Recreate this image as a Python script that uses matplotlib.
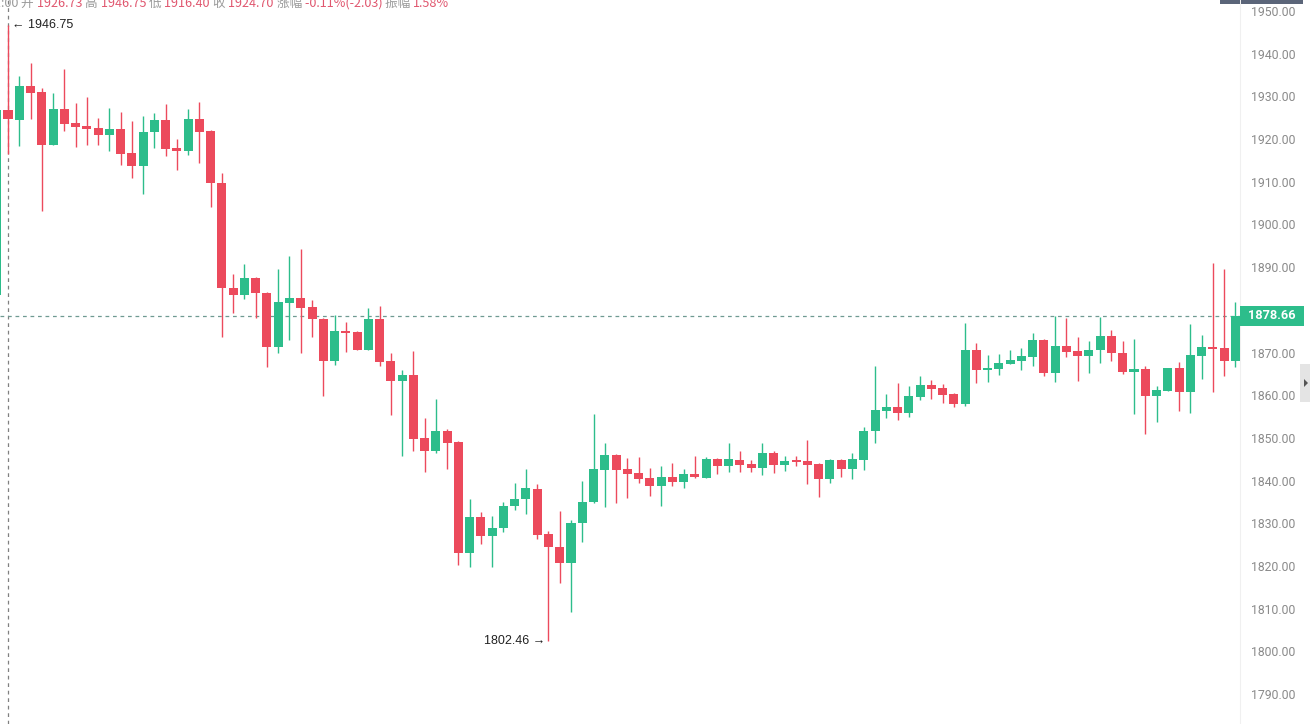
import matplotlib
matplotlib.use("Agg")
import matplotlib.pyplot as plt
from matplotlib.patches import Rectangle, Polygon
import numpy as np

# ---- data (index -1 is the partly visible candle at the left edge) ----
idx = list(range(-1, 110))
opens = [1883.5, 1926.73, 1924.5, 1932.4, 1931.0, 1918.7, 1927.0, 1923.8, 1923.1, 1922.5,
         1921.0, 1922.4, 1916.7, 1913.8, 1921.7, 1924.5, 1918.0, 1917.3, 1924.8, 1921.9,
         1909.6, 1885.0, 1883.4, 1887.4, 1883.9, 1871.4, 1881.7, 1882.8, 1880.7, 1877.9,
         1868.0, 1875.1, 1874.8, 1870.7, 1877.9, 1868.0, 1863.4, 1864.7, 1850.0, 1847.0,
         1851.6, 1849.0, 1823.0, 1831.5, 1827.1, 1828.8, 1834.0, 1835.8, 1838.0, 1827.5,
         1824.5, 1820.8, 1830.0, 1835.0, 1842.5, 1846.0, 1842.7, 1841.8, 1840.5, 1838.8,
         1840.8, 1839.7, 1841.5, 1840.7, 1845.1, 1843.5, 1844.8, 1843.9, 1843.0, 1846.5,
         1843.7, 1844.8, 1844.6, 1843.9, 1840.4, 1844.8, 1842.7, 1844.8, 1851.5, 1856.4,
         1857.3, 1855.9, 1859.6, 1862.4, 1861.7, 1860.3, 1858.0, 1870.6, 1866.0, 1866.2,
         1867.4, 1868.1, 1869.0, 1872.9, 1865.1, 1871.5, 1870.4, 1869.3, 1870.7, 1873.9,
         1870.0, 1865.5, 1866.1, 1859.8, 1861.1, 1866.4, 1860.8, 1869.3, 1871.2, 1871.0,
         1868.0]
highs = [1926.8, 1946.75, 1934.8, 1937.9, 1931.9, 1930.7, 1936.4, 1928.5, 1929.9, 1924.9,
         1927.2, 1926.3, 1924.2, 1925.3, 1926.0, 1928.2, 1920.1, 1927.0, 1928.7, 1922.2,
         1912.1, 1888.4, 1890.7, 1887.6, 1884.2, 1889.5, 1892.6, 1894.2, 1882.3, 1878.2,
         1878.9, 1877.2, 1875.0, 1880.4, 1880.9, 1869.8, 1865.9, 1870.4, 1854.6, 1859.2,
         1852.2, 1849.2, 1835.8, 1832.7, 1831.7, 1835.1, 1839.4, 1842.6, 1839.2, 1828.2,
         1832.9, 1830.8, 1839.8, 1855.7, 1848.9, 1846.2, 1845.2, 1845.5, 1842.9, 1843.4,
         1844.2, 1842.6, 1845.8, 1845.5, 1845.3, 1848.7, 1846.9, 1844.8, 1848.7, 1847.0,
         1845.8, 1845.8, 1849.5, 1844.1, 1845.0, 1845.0, 1846.4, 1852.5, 1866.8, 1860.3,
         1862.9, 1862.2, 1864.5, 1863.6, 1862.6, 1860.6, 1876.8, 1872.2, 1869.4, 1869.7,
         1870.6, 1871.0, 1874.5, 1873.2, 1878.6, 1878.0, 1873.6, 1872.8, 1878.4, 1875.3,
         1872.8, 1873.1, 1866.8, 1862.2, 1866.4, 1867.7, 1876.6, 1874.1, 1891.0, 1889.6,
         1881.9]
lows = [1883.5, 1916.40, 1918.4, 1924.6, 1903.2, 1918.5, 1922.0, 1918.2, 1918.5, 1918.7,
        1917.3, 1913.9, 1910.8, 1907.1, 1917.8, 1916.0, 1912.8, 1916.3, 1914.5, 1904.2,
        1873.6, 1879.2, 1882.6, 1878.2, 1866.5, 1870.0, 1872.9, 1870.0, 1873.6, 1859.9,
        1867.1, 1870.2, 1870.5, 1870.7, 1866.9, 1855.3, 1845.8, 1847.0, 1842.1, 1846.4,
        1842.8, 1820.2, 1819.7, 1825.1, 1819.8, 1828.0, 1833.1, 1832.2, 1826.3, 1802.46,
        1816.1, 1809.3, 1825.5, 1834.8, 1833.9, 1834.8, 1836.0, 1839.5, 1836.5, 1834.0,
        1838.7, 1838.3, 1840.6, 1840.5, 1841.5, 1842.1, 1842.1, 1842.1, 1841.3, 1841.8,
        1842.3, 1843.4, 1839.1, 1836.2, 1839.5, 1840.8, 1840.4, 1842.5, 1848.9, 1854.6,
        1854.2, 1854.8, 1858.9, 1859.0, 1858.1, 1857.3, 1857.5, 1862.9, 1863.2, 1864.7,
        1867.2, 1865.9, 1866.8, 1864.5, 1863.2, 1869.0, 1863.3, 1865.1, 1867.6, 1868.1,
        1865.0, 1855.6, 1850.9, 1853.8, 1861.1, 1856.4, 1855.8, 1863.7, 1860.8, 1864.5,
        1866.7]
closes = [1926.8, 1924.70, 1932.4, 1930.9, 1918.7, 1927.0, 1923.6, 1922.9, 1922.4, 1921.0,
          1922.4, 1916.6, 1913.8, 1921.7, 1924.5, 1917.7, 1917.3, 1924.8, 1921.7, 1909.6,
          1885.0, 1883.4, 1887.4, 1883.9, 1871.4, 1881.8, 1882.8, 1880.5, 1877.8, 1868.0,
          1875.0, 1874.6, 1870.7, 1877.9, 1867.8, 1863.4, 1864.7, 1849.8, 1847.0, 1851.6,
          1848.9, 1823.0, 1831.5, 1827.1, 1828.8, 1834.0, 1835.8, 1838.3, 1827.3, 1824.4,
          1820.8, 1830.0, 1835.0, 1842.8, 1846.0, 1842.5, 1841.5, 1840.4, 1838.8, 1840.8,
          1839.7, 1841.5, 1840.8, 1845.1, 1843.5, 1845.1, 1843.7, 1843.0, 1846.5, 1843.7,
          1844.5, 1844.3, 1843.7, 1840.4, 1844.8, 1842.7, 1845.1, 1851.6, 1856.5, 1857.3,
          1855.9, 1859.8, 1862.4, 1861.5, 1860.1, 1858.0, 1870.6, 1866.0, 1866.4, 1867.5,
          1868.2, 1869.2, 1872.9, 1865.1, 1871.5, 1870.2, 1869.3, 1870.7, 1873.9, 1869.8,
          1865.5, 1866.1, 1859.9, 1861.2, 1866.4, 1860.8, 1869.4, 1871.4, 1870.8, 1868.0,
          1878.66]

yticks = [1790, 1800, 1810, 1820, 1830, 1840, 1850, 1860, 1870, 1880,
          1890, 1900, 1910, 1920, 1930, 1940, 1950]
last_price = 1878.66
high_idx, high_val = 0, 1946.75
low_idx, low_val = 48, 1802.46
header_parts = [("1:00 ", "g"), ("开 ", "g"), ("1926.73 ", "r"), ("高 ", "g"), ("1946.75 ", "r"),
                ("低 ", "g"), ("1916.40 ", "r"), ("收 ", "g"), ("1924.70 ", "r"),
                ("涨幅 ", "g"), ("-0.11%(-2.03) ", "r"), ("振幅 ", "g"), ("1.58%", "r")]

GREEN = "#2dbd8b"
RED = "#ec4a5c"
GRAY_TXT = "#9a9a9a"
RED_TXT = "#e0566e"

W, H = 1310, 724
fig = plt.figure(figsize=(W / 100, H / 100), dpi=100)
fig.patch.set_facecolor("white")
ax = fig.add_axes([0, 0, 1240 / W, 1])

px_per_unit = 4.269
ymax = 1950 + 11 / px_per_unit
ymin = ymax - H / px_per_unit
step = 11.26
x0 = -8 / step
ax.set_xlim(x0, x0 + 1240 / step)
ax.set_ylim(ymin, ymax)

o = np.array(opens); h = np.array(highs); l = np.array(lows); c = np.array(closes)
x = np.array(idx)
cols = [GREEN if cc >= oo else RED for oo, cc in zip(o, c)]
ax.vlines(x, l, h, colors=cols, linewidth=1.0, zorder=3)
bottoms = np.minimum(o, c)
heights = np.maximum(np.abs(c - o), 1.2 / px_per_unit)
ax.bar(x, heights, bottom=bottoms, width=0.8, color=cols, linewidth=0, zorder=4)

# crosshair vertical line and last price line
ax.axvline(high_idx, color="#808080", linestyle=(0, (3, 3)), linewidth=0.9, zorder=2)
ax.axhline(last_price, color="#6f9a92", linestyle=(0, (3, 3)), linewidth=0.9, zorder=2)

# axis styling
for s in ["top", "left", "bottom"]:
    ax.spines[s].set_visible(False)
ax.spines["right"].set_color("#f0f0f0")
ax.set_xticks([])
ax.yaxis.tick_right()
ax.set_yticks(yticks)
ax.set_yticklabels([f"{v:.2f}" for v in yticks])
ax.tick_params(axis="y", length=0, pad=8, labelsize=8.8, labelcolor="#8a8a8a")
for lab in ax.get_yticklabels():
    lab.set_family(["Roboto", "DejaVu Sans"])

# high / low annotations
ax.annotate("← " + f"{high_val:.2f}", xy=(high_idx, high_val), xytext=(3, 0),
            textcoords="offset points", ha="left", va="center", fontsize=9,
            family=["Liberation Sans", "DejaVu Sans"], color="#222222", zorder=6)
ax.annotate(f"{low_val:.2f}" + " →", xy=(low_idx, low_val), xytext=(-2, 0),
            textcoords="offset points", ha="right", va="center", fontsize=9,
            family=["Liberation Sans", "DejaVu Sans"], color="#222222", zorder=6)

# price label box on the right axis
def fy(p):
    return 1 - (ymax - p) * px_per_unit / H

fig.patches.append(Rectangle((1240 / W, fy(last_price) - 10 / H), 64 / W, 20 / H,
                             transform=fig.transFigure, facecolor=GREEN, edgecolor="none", zorder=5))
fig.text(1272 / W, fy(last_price), f"{last_price:.2f}", ha="center", va="center",
         fontsize=9.2, fontweight="bold", color="white", family=["Roboto", "DejaVu Sans"], zorder=6)

# top right dark tabs
fig.patches.append(Rectangle((1220 / W, 1 - 4 / H), 20 / W, 4 / H, transform=fig.transFigure,
                             facecolor="#5b6579", edgecolor="none", zorder=5))
fig.patches.append(Rectangle((1241 / W, 1 - 4 / H), 62 / W, 4 / H, transform=fig.transFigure,
                             facecolor="#5b6579", edgecolor="none", zorder=5))
# right side collapse tab
fig.patches.append(Rectangle((1300 / W, 1 - 402 / H), 10 / W, 38 / H, transform=fig.transFigure,
                             facecolor="#e4e4e4", edgecolor="none", zorder=5))
fig.patches.append(Polygon([(1304 / W, 1 - 379 / H), (1304 / W, 1 - 387 / H), (1308 / W, 1 - 383 / H)],
                           closed=True, transform=fig.transFigure, facecolor="#555555",
                           edgecolor="none", zorder=6))

# header text (cut off at the top edge), pieces chained one after another
hdr_font = ["Noto Sans CJK SC", "DejaVu Sans"]
prev = fig.text(-6 / W, 1 - 7 / H, header_parts[0][0], ha="left", va="baseline", fontsize=9.1,
                color=GRAY_TXT, family=hdr_font)
for txt, kind in header_parts[1:]:
    color = GRAY_TXT if kind == "g" else RED_TXT
    prev = ax.annotate(txt, xy=(1, 0), xycoords=prev, ha="left", va="bottom", fontsize=9.1,
                       color=color, family=hdr_font, annotation_clip=False)

fig.savefig("out.png", dpi=100, facecolor="white")
